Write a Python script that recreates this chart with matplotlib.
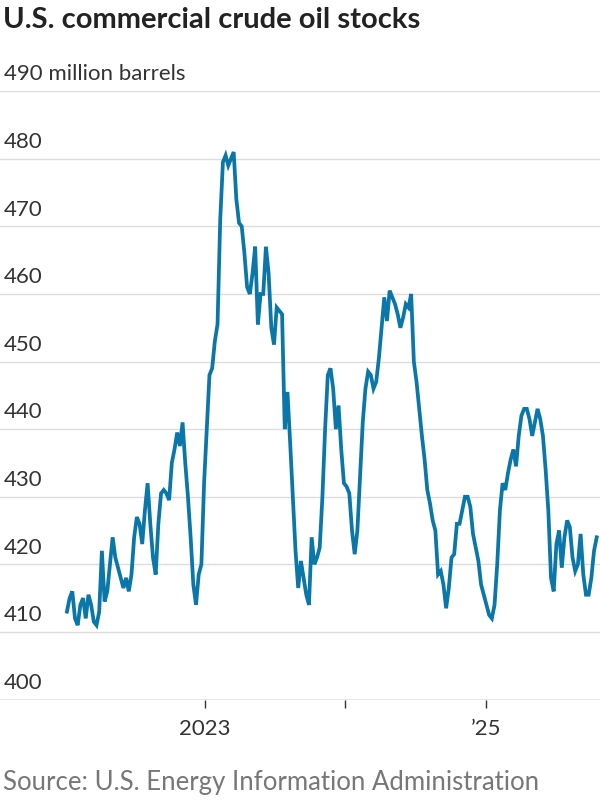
import numpy as np
import pandas as pd
import matplotlib.pyplot as plt
import matplotlib.dates as mdates

# weekly U.S. commercial crude stocks, million barrels
stocks = [
    413, 415, 416, 412, 411, 414, 415, 412, 415.5, 414, 411.5, 411, 413, 422, 414.5, 416,
    420, 424, 421, 419.5, 418, 416.5, 418, 416, 418.5, 424, 427, 426, 423, 428, 432, 426,
    421, 418.5, 426, 430.5, 431, 430.5, 429.5, 435, 437, 439.5, 437.5, 441, 435, 430,
    424, 417, 414, 418.5, 420, 432, 440,
    448, 449, 453, 455.5, 471, 479.5, 480.5, 479, 480, 481, 474, 470.5, 470, 466, 461, 460,
    463, 467, 455.5, 460, 460, 467, 463, 455, 452.5, 458, 457.5, 457, 440, 445.5, 438, 430,
    422, 416.5, 420.5, 418, 415.5, 414, 424, 420, 421, 422.5, 430, 440, 448, 449, 446, 440,
    443.5, 437, 432, 431.5,
    430.5, 425, 421.5, 425, 433, 441, 446, 448.5, 448, 446, 447, 450.5, 455, 459.5, 456,
    460.5, 459.5, 458.5, 457, 455, 456.5, 458.5, 458, 460, 450, 447, 443, 439, 435.5, 431,
    429, 426.5, 425, 418.5, 419, 417, 413.5, 416.5, 421, 421.5, 426, 426, 428, 430, 430,
    428.5, 424.5, 422.5, 420.5, 417, 415.5, 414,
    412.5, 412, 414, 420, 428, 432, 431, 433.5, 435.5, 437, 434.5, 439, 442, 443, 443,
    441.5, 439, 441, 443, 441.5, 439, 434, 428, 418, 416, 423, 425, 419.5, 424, 426.5,
    425.5, 421, 419, 420, 424.5, 418.5, 415.5, 415.5, 418, 422, 424,
]
dates = pd.date_range("2022-01-07", periods=len(stocks), freq="7D")

y_ticks = [400, 410, 420, 430, 440, 450, 460, 470, 480, 490]
y_labels = ["400", "410", "420", "430", "440", "450", "460", "470", "480", "490 million barrels"]
x_ticks = pd.to_datetime(["2023-01-01", "2024-01-01", "2025-01-01"])
x_labels = ["2023", "", "\u201925"]

plt.rcParams["font.family"] = ["Lato", "DejaVu Sans"]
fig = plt.figure(figsize=(6, 8), dpi=100)
ax = fig.add_axes([0, 0.1256, 1, 0.886 - 0.1256])

ax.plot(dates, stocks, color="#0b77a8", lw=2.7, solid_joinstyle="miter", zorder=3)

t0 = pd.Timestamp("2023-01-01")
ax.set_xlim(mdates.date2num(t0) - 205 * 2.601, mdates.date2num(t0) + 1 + 731 + 114 * 2.601)
ax.set_ylim(400, 490)

for v in y_ticks[1:]:
    ax.axhline(v, color="#dddddd", lw=1, zorder=1)
ax.axhline(400, color="#888888", lw=1, zorder=2)
for v, lab in zip(y_ticks, y_labels):
    ax.text(0.007, v + 1.0, lab, transform=ax.get_yaxis_transform(), ha="left", va="bottom",
            fontsize=16, color="#333333")

ax.set_yticks([])
ax.set_xticks(x_ticks)
ax.set_xticklabels(x_labels, fontsize=16, color="#333333")
ax.tick_params(axis="x", length=6, width=1, color="#333333", pad=8)
for s in ax.spines.values():
    s.set_visible(False)

fig.text(0.005, 0.975, "U.S. commercial crude oil stocks", fontsize=21, fontweight="bold",
         color="#222222", va="center", ha="left")
fig.text(0.005, 0.022, "Source: U.S. Energy Information Administration", fontsize=18.5,
         color="#777777", va="center", ha="left")

fig.savefig("out.png", dpi=100)
